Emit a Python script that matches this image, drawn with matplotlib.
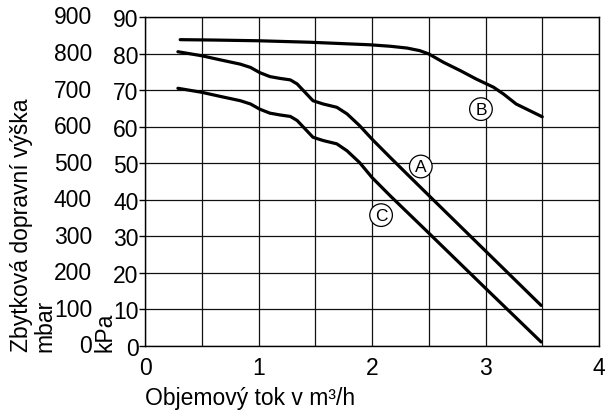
import matplotlib
matplotlib.use("Agg")
import matplotlib.pyplot as plt
from matplotlib.transforms import blended_transform_factory

plt.rcParams['font.family'] = ['Liberation Sans', 'DejaVu Sans']

# Data (flow m3/h, head kPa)
b_x = [0.31, 0.60, 1.00, 1.45, 1.98, 2.16, 2.31, 2.42, 2.50, 2.63, 2.78, 2.92, 3.07, 3.16, 3.27, 3.50]
b_y = [83.8, 83.7, 83.5, 83.1, 82.4, 82.0, 81.5, 80.8, 79.9, 77.6, 75.3, 73.0, 70.8, 68.9, 66.2, 62.7]

a_x = [0.29, 0.50, 0.66, 0.84, 0.93, 1.01, 1.10, 1.19, 1.28, 1.34, 1.41, 1.48, 1.57, 1.69, 1.78, 1.89, 2.00, 2.16, 2.31, 2.50, 3.00, 3.49]
a_y = [80.5, 79.4, 78.3, 77.1, 76.2, 74.8, 73.7, 73.2, 72.8, 71.7, 69.4, 67.1, 66.2, 65.3, 63.5, 60.3, 56.6, 51.6, 47.0, 41.2, 26.0, 11.1]

c_x = [0.29, 0.50, 0.66, 0.84, 0.93, 1.01, 1.10, 1.19, 1.28, 1.34, 1.41, 1.48, 1.57, 1.69, 1.78, 1.89, 2.00, 2.16, 2.50, 3.00, 3.49]
c_y = [70.5, 69.4, 68.3, 67.1, 66.2, 64.8, 63.7, 63.2, 62.8, 61.7, 59.4, 57.1, 56.2, 55.3, 53.4, 50.2, 46.1, 41.1, 30.9, 15.8, 1.1]

labels = ['A', 'B', 'C']
label_x = [2.43, 2.96, 2.08]
label_y = [49.1, 64.8, 35.8]

x_ticks = [0, 1, 2, 3, 4]
kpa_ticks = [0, 10, 20, 30, 40, 50, 60, 70, 80, 90]
mbar_labels = ['0', '100', '200', '300', '400', '500', '600', '700', '800', '900']

FS = 16.5

fig = plt.figure(figsize=(6.07, 4.14), dpi=100)
ax = fig.add_axes([145/607, 1 - 347/414, 454/607, 329/414])

ax.set_xlim(0, 4)
ax.set_ylim(0, 90)

ax.set_xticks(x_ticks)
ax.set_xticks([0.5, 1.5, 2.5, 3.5], minor=True)
ax.set_xticklabels([str(v) for v in x_ticks], fontsize=FS)
ax.tick_params(axis='x', which='both', length=0, pad=7.5)
ax.set_yticks(kpa_ticks)
ax.set_yticklabels([str(v) for v in kpa_ticks], fontsize=FS)
ax.tick_params(axis='y', length=4, width=1, pad=0.5)

ax.set_axisbelow(True)
ax.grid(True, which='both', color='#111111', linewidth=0.9)

for s in ax.spines.values():
    s.set_linewidth(1.0)
    s.set_color('black')

for xs, ys in [(b_x, b_y), (a_x, a_y), (c_x, c_y)]:
    ax.plot(xs, ys, color='black', lw=2.3, solid_capstyle='round', solid_joinstyle='round', zorder=3)

for t, lx, ly in zip(labels, label_x, label_y):
    ax.text(lx, ly, t, ha='center', va='center', fontsize=12.5, zorder=5,
            bbox=dict(boxstyle='circle,pad=0.22', fc='white', ec='black', lw=0.9))

trans = blended_transform_factory(ax.transAxes, ax.transData)
for v, lab in zip(kpa_ticks, mbar_labels):
    ax.text(-0.1167, v, lab, transform=trans, ha='right', va='center', fontsize=FS)

fig.text(22/607, (414-352)/414, 'Zbytková dopravní výška', rotation=90, ha='center', va='bottom', fontsize=FS)
fig.text(45/607, (414-352)/414, 'mbar', rotation=90, ha='center', va='bottom', fontsize=FS)
fig.text(105/607, (414-352)/414, 'kPa', rotation=90, ha='center', va='bottom', fontsize=FS)
fig.text(145/607, (414-405)/414, 'Objemový tok v m³/h', ha='left', va='baseline', fontsize=FS)

fig.savefig('out.png', dpi=100)
